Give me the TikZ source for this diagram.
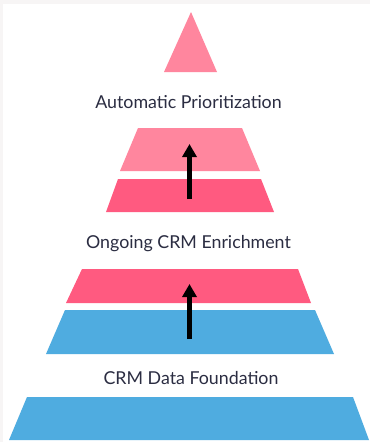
\documentclass[tikz,border=0pt]{standalone}
\usepackage{fontspec}
\setmainfont{Lato}
\usetikzlibrary{arrows.meta}
\definecolor{lpink}{HTML}{FF869E}
\definecolor{dpink}{HTML}{FF5A80}
\definecolor{cblue}{HTML}{4FACE0}
\definecolor{ctext}{HTML}{2B2D42}
\definecolor{cbg}{HTML}{F7F5F5}
\tikzset{
  lbl/.style={text=ctext, font=\fontsize{17.8}{20}\selectfont, inner sep=0pt, anchor=base},
  uparrow/.style={line width=4.5pt, -{Triangle[width=14pt,length=13pt]}, black}
}
\begin{document}
\begin{tikzpicture}[x=1pt,y=-1pt]
\fill[cbg] (0,0) rectangle (370,442);
\fill[white] (3,4) rectangle (370,442);
\useasboundingbox (0,0) rectangle (370,442);
% top triangle
\fill[lpink] (191,12) -- (217,72) -- (164,72) -- cycle;
\node[lbl] (t1) at (188.5,108) {Automatic Prioritization};
% level 2
\fill[lpink] (138,128) -- (242,128) -- (260,171) -- (120,171) -- cycle;
\fill[dpink] (118,179) -- (261,179) -- (274,212) -- (106,212) -- cycle;
\coordinate (a1s) at (189.5,199);
\coordinate (a1e) at (189.5,144);
\draw[uparrow] (a1s) -- (a1e);
\node[lbl] (t2) at (188.5,248) {Ongoing CRM Enrichment};
% level 3
\fill[dpink] (82,269) -- (298,269) -- (311,303) -- (66,303) -- cycle;
\fill[cblue] (65,310) -- (315,310) -- (334,354) -- (46,354) -- cycle;
\coordinate (a2s) at (189.5,339);
\coordinate (a2e) at (189.5,284);
\draw[uparrow] (a2s) -- (a2e);
\node[lbl] (t3) at (191,384.5) {CRM Data Foundation};
% base
\fill[cblue] (27,397) -- (353,397) -- (369,440) -- (9,440) -- cycle;
\end{tikzpicture}
\end{document}
